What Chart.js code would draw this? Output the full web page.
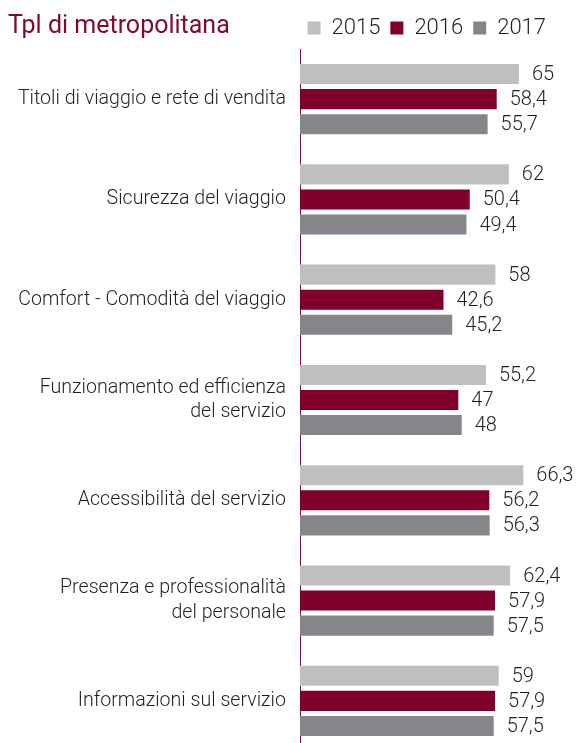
<!DOCTYPE html>
<html>
<head>
<meta charset="utf-8">
<script src="https://cdn.jsdelivr.net/npm/chart.js@4/dist/chart.umd.min.js"></script>
<style>
  html, body { margin: 0; padding: 0; background: #ffffff; overflow: hidden; }
  #wrap { position: relative; width: 580px; height: 743px; overflow: hidden; }
  canvas { display: block; }
</style>
</head>
<body>
<div id="wrap"><canvas id="c" width="580" height="760"></canvas></div>
<script>
// Survey categories (multi-line where the label wraps)
const categories = [
  'Titoli di viaggio e rete di vendita',
  'Sicurezza del viaggio',
  'Comfort - Comodità del viaggio',
  ['Funzionamento ed efficienza', 'del servizio'],
  'Accessibilità del servizio',
  ['Presenza e professionalità', 'del personale'],
  'Informazioni sul servizio'
];
const years = ['2015', '2016', '2017'];
const values2015 = [65, 62, 58, 55.2, 66.3, 62.4, 59];
const values2016 = [58.4, 50.4, 42.6, 47, 56.2, 57.9, 57.9];
const values2017 = [55.7, 49.4, 45.2, 48, 56.3, 57.5, 57.5];
const chartTitle = 'Tpl di metropolitana';

const FONT = 'Roboto, "Liberation Sans", Arial, sans-serif';
const TEXT = '#231f20';
const WINE = '#7e0a2f';

// Title drawn at the top-left, on the same line as the legend
const leftTitle = {
  id: 'leftTitle',
  afterDraw(chart) {
    const ctx = chart.ctx;
    ctx.save();
    ctx.font = '400 25px ' + FONT;
    ctx.fillStyle = WINE;
    ctx.textAlign = 'left';
    ctx.textBaseline = 'alphabetic';
    ctx.fillText(chartTitle, 8, 33);
    ctx.restore();
  }
};

// Value labels placed just right of each bar (Italian decimal comma)
const valueLabels = {
  id: 'valueLabels',
  afterDatasetsDraw(chart) {
    const ctx = chart.ctx;
    ctx.save();
    ctx.font = '300 20px ' + FONT;
    ctx.fillStyle = TEXT;
    ctx.textAlign = 'left';
    ctx.textBaseline = 'middle';
    chart.data.datasets.forEach((ds, di) => {
      const meta = chart.getDatasetMeta(di);
      meta.data.forEach((bar, i) => {
        const txt = String(ds.data[i]).replace('.', ',');
        ctx.fillText(txt, bar.x + 13, bar.y + 1);
      });
    });
    ctx.restore();
  }
};

new Chart(document.getElementById('c'), {
  type: 'bar',
  data: {
    labels: categories,
    datasets: [
      { label: years[0], data: values2015, backgroundColor: '#bfbfc1', borderWidth: 0 },
      { label: years[1], data: values2016, backgroundColor: '#7f0029', borderWidth: 0 },
      { label: years[2], data: values2017, backgroundColor: '#858689', borderWidth: 0 }
    ]
  },
  options: {
    indexAxis: 'y',
    responsive: false,
    maintainAspectRatio: false,
    animation: false,
    categoryPercentage: 0.75,
    barPercentage: 0.8,
    layout: { padding: { top: 7, right: 24, bottom: 9, left: 0 } },
    plugins: {
      title: { display: false },
      tooltip: { enabled: false },
      legend: {
        display: true,
        position: 'top',
        align: 'end',
        labels: {
          boxWidth: 13,
          boxHeight: 13,
          padding: 10,
          color: TEXT,
          font: { family: FONT, size: 22, weight: '300' }
        }
      }
    },
    scales: {
      x: {
        display: false,
        min: 0,
        max: 76
      },
      y: {
        afterFit(scale) {
          scale.width = 300;
          // category labels sit well inside the plot; no extra end padding
          scale.paddingTop = 0;
          scale.paddingBottom = 0;
        },
        grid: { display: false, drawTicks: false },
        border: { display: true, color: '#7e1233', width: 1 },
        ticks: {
          autoSkip: false,
          padding: 14,
          color: TEXT,
          font: { family: FONT, size: 19.6, weight: '300', lineHeight: 1.23 }
        }
      }
    }
  },
  plugins: [leftTitle, valueLabels]
});
</script>
</body>
</html>
